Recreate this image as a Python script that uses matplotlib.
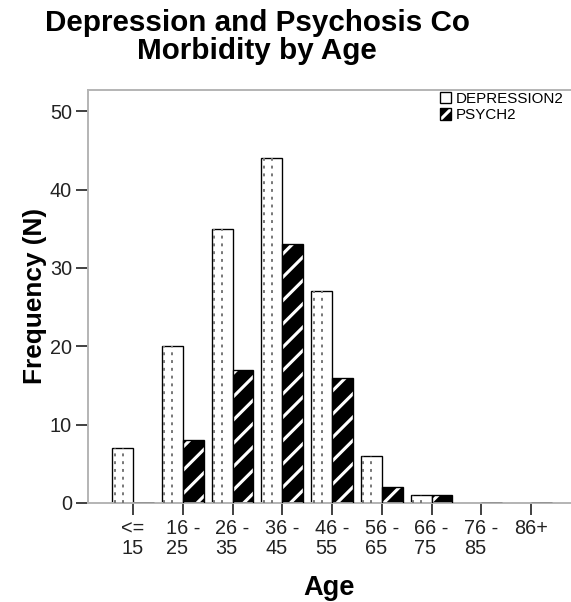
import numpy as np
import matplotlib
matplotlib.use('Agg')
import matplotlib.pyplot as plt
from matplotlib.patches import Patch
from matplotlib.legend_handler import HandlerTuple

age_groups = ['<=\n15', '16 -\n25', '26 -\n35', '36 -\n45', '46 -\n55',
              '56 -\n65', '66 -\n75', '76 -\n85', '86+']
depression = [7, 20, 35, 44, 27, 6, 1, 0, 0]
psych = [0, 8, 17, 33, 16, 2, 1, 0, 0]

plt.rcParams['font.family'] = ['Liberation Sans', 'DejaVu Sans']
plt.rcParams['hatch.linewidth'] = 3.2

DPI = 70
fig = plt.figure(figsize=(571 / DPI, 602 / DPI), dpi=DPI)
ax = fig.add_axes([88 / 571, 1 - 503 / 602, 1 - 88 / 571, (503 - 90) / 602])

x = np.arange(len(age_groups))
w = 0.42

# depression: white bars with dotted grey lines
ax.bar(x - w / 2, depression, width=w, facecolor='white', edgecolor='black', linewidth=1.4, zorder=2)
ax.vlines(x - w / 2, 0, depression, colors='#777777', linestyles=(0, (1.5, 2.5)), linewidth=2, zorder=3)
ax.vlines(x - w + 0.05, 0, depression, colors='#777777', linestyles=(0, (1.5, 2.5)), linewidth=2, zorder=3)

# psych: black bars with white diagonal stripes
ax.bar(x + w / 2, psych, width=w, facecolor='black', edgecolor='white', hatch='/', linewidth=0, zorder=2)
ax.bar(x + w / 2, psych, width=w, facecolor='none', edgecolor='black', linewidth=1.4, zorder=3)

ax.set_xlim(-0.905, 8.804)
ax.set_ylim(0, 52.7)
ax.set_yticks([0, 10, 20, 30, 40, 50])
ax.set_xticks(x)
ax.set_xticklabels(age_groups, linespacing=1.05)
for lbl in ax.get_xticklabels():
    lbl.set_multialignment('left')

for side in ['left', 'top', 'bottom']:
    ax.spines[side].set_color('#b4b4b4')
    ax.spines[side].set_linewidth(2)
ax.spines['right'].set_visible(False)
ax.tick_params(axis='both', length=12.5, width=2, color='#404040', labelsize=20.5,
               labelcolor='#222222', pad=4)

ax.set_xlabel('Age', fontsize=28, fontweight='bold', labelpad=18)
ax.set_ylabel('Frequency (N)', fontsize=27, fontweight='bold', labelpad=3)

fig.text(257 / 571, 1 - 9 / 602, 'Depression and Psychosis Co\nMorbidity by Age',
         ha='center', va='top', fontsize=30.5, fontweight='bold', linespacing=0.98)

h_dep = Patch(facecolor='white', edgecolor='black', linewidth=1.4)
h_psy = (Patch(facecolor='black', edgecolor='white', hatch='/', linewidth=0),
         Patch(facecolor='none', edgecolor='black', linewidth=1.4))
ax.legend([h_dep, h_psy], ['DEPRESSION2', 'PSYCH2'],
          handler_map={tuple: HandlerTuple(ndivide=1)},
          loc='upper left', bbox_to_anchor=(440 / 571, 1 - 92 / 602),
          bbox_transform=fig.transFigure, frameon=False, fontsize=15.5,
          handlelength=0.75, handleheight=0.75, handletextpad=0.3,
          borderpad=0, borderaxespad=0, labelspacing=0.15)

fig.savefig('out.png', dpi=DPI)
